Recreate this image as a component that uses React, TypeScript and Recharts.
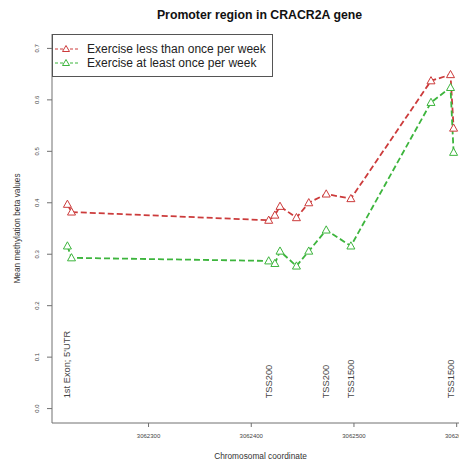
import { LineChart, Line, XAxis, YAxis, Legend, ReferenceDot } from "recharts";

// probe coordinates on the chromosome
const positions = [3062221, 3062225, 3062417, 3062423, 3062428, 3062444, 3062456, 3062473, 3062497, 3062575, 3062594, 3062597];
// mean methylation beta values
const lessThanOnce = [0.397, 0.382, 0.366, 0.376, 0.393, 0.371, 0.4, 0.417, 0.408, 0.637, 0.649, 0.545];
const atLeastOnce = [0.316, 0.293, 0.287, 0.282, 0.306, 0.277, 0.306, 0.347, 0.316, 0.595, 0.624, 0.498];

const xTicks = [3062300, 3062400, 3062500, 3062600];
const yTicks = [0, 0.1, 0.2, 0.3, 0.4, 0.5, 0.6, 0.7];

const regionLabels = ["1st Exon; 5'UTR", "TSS200", "TSS200", "TSS1500", "TSS1500"];
const regionPositions = [3062221, 3062417, 3062473, 3062497, 3062594];
const regionLabelY = 0.02;

const RED = "#cc3b3b";
const GREEN = "#3db53d";
const AXIS = "#707070";
const FONT = "'Liberation Sans', Arial, sans-serif";

const data = positions.map((pos, i) => ({
  pos,
  less: lessThanOnce[i],
  atLeast: atLeastOnce[i],
}));

function Triangle({ cx, cy, stroke }: any) {
  if (cx == null || cy == null) return null;
  const h = 3.6;
  return (
    <path
      d={`M${cx},${cy - h - 0.6} L${cx + h + 0.4},${cy + h - 0.6} L${cx - h - 0.4},${cy + h - 0.6} Z`}
      fill="#fff"
      stroke={stroke}
      strokeWidth={1}
    />
  );
}

function YTick({ x, y, payload }: any) {
  return (
    <text
      x={x}
      y={y}
      transform={`rotate(-90, ${x}, ${y})`}
      textAnchor="middle"
      dominantBaseline="central"
      fontSize={6}
      fill="#444"
      fontFamily={FONT}
    >
      {Number(payload.value).toFixed(1)}
    </text>
  );
}

function RegionText({ cx, cy, text }: any) {
  if (cx == null || cy == null) return null;
  return (
    <text
      x={cx}
      y={cy}
      transform={`rotate(-90, ${cx}, ${cy})`}
      textAnchor="start"
      dominantBaseline="central"
      fontSize={9.3}
      fill="#444"
      fontFamily={FONT}
    >
      {text}
    </text>
  );
}

function LegendSymbol({ color }: { color: string }) {
  return (
    <svg width={24} height={10} style={{ display: "block" }}>
      <line x1={0} y1={5} x2={24} y2={5} stroke={color} strokeWidth={1} strokeDasharray="3 2" />
      <path d="M11,1.5 L14.5,7.5 L7.5,7.5 Z" fill="#fff" stroke={color} strokeWidth={1} />
    </svg>
  );
}

function renderLegend() {
  const items = [
    { label: "Exercise less than once per week", color: RED },
    { label: "Exercise at least once per week", color: GREEN },
  ];
  return (
    <div
      style={{
        border: "1px solid #555",
        width: 219,
        height: 41,
        boxSizing: "content-box",
        background: "#fff",
        fontFamily: FONT,
        fontSize: 12,
        color: "#222",
      }}
    >
      {items.map((it, i) => (
        <div
          key={it.label}
          style={{ display: "flex", alignItems: "center", height: 14, marginTop: i === 0 ? 7 : 0 }}
        >
          <div style={{ marginLeft: 2, width: 24 }}>
            <LegendSymbol color={it.color} />
          </div>
          <span style={{ marginLeft: 8, lineHeight: "14px", whiteSpace: "nowrap" }}>{it.label}</span>
        </div>
      ))}
    </div>
  );
}

export default function App() {
  return (
    <div
      style={{
        position: "absolute",
        left: 0,
        top: 0,
        width: 459,
        height: 464,
        overflow: "hidden",
        background: "#fff",
      }}
    >
      <div
        style={{
          position: "absolute",
          left: 0,
          top: 7,
          width: 519,
          textAlign: "center",
          fontFamily: FONT,
          fontWeight: "bold",
          fontSize: 12.3,
          lineHeight: "16px",
          color: "#111",
        }}
      >
        Promoter region in CRACR2A gene
      </div>
      <LineChart
        width={480}
        height={464}
        data={data}
        margin={{ top: 34, right: 11, bottom: 0, left: 0 }}
        style={{ position: "absolute", left: 0, top: 0 }}
      >
        <XAxis
          dataKey="pos"
          type="number"
          domain={[3062206, 3062612]}
          allowDataOverflow
          ticks={xTicks}
          height={41}
          tickSize={4}
          tickMargin={7}
          stroke={AXIS}
          tick={{ fontSize: 6, fill: "#444", fontFamily: FONT }}
          tickFormatter={(v: number) => String(v)}
          label={{
            value: "Chromosomal coordinate",
            position: "insideBottom",
            offset: 5,
            style: { fontSize: 8.3, fill: "#333", fontFamily: FONT },
          }}
        />
        <YAxis
          type="number"
          domain={[-0.028, 0.728]}
          allowDataOverflow
          ticks={yTicks}
          width={52}
          tickSize={5}
          tickMargin={10}
          stroke={AXIS}
          tick={<YTick />}
          label={{
            value: "Mean methylation beta values",
            angle: -90,
            position: "insideLeft",
            offset: 17,
            style: { fontSize: 8.3, fill: "#333", fontFamily: FONT, textAnchor: "middle" },
          }}
        />
        <Legend
          content={renderLegend}
          layout="horizontal"
          verticalAlign="middle"
          align="center"
          wrapperStyle={{ left: 52, top: 34, width: 221 }}
        />
        <Line
          dataKey="less"
          name="Exercise less than once per week"
          stroke={RED}
          strokeWidth={1.8}
          strokeDasharray="6 3"
          dot={<Triangle stroke={RED} />}
          activeDot={false}
          isAnimationActive={false}
        />
        <Line
          dataKey="atLeast"
          name="Exercise at least once per week"
          stroke={GREEN}
          strokeWidth={1.8}
          strokeDasharray="6 3"
          dot={<Triangle stroke={GREEN} />}
          activeDot={false}
          isAnimationActive={false}
        />
        {regionPositions.map((p, i) => (
          <ReferenceDot
            key={i}
            x={p}
            y={regionLabelY}
            shape={(props: any) => <RegionText {...props} text={regionLabels[i]} />}
          />
        ))}
      </LineChart>
    </div>
  );
}
